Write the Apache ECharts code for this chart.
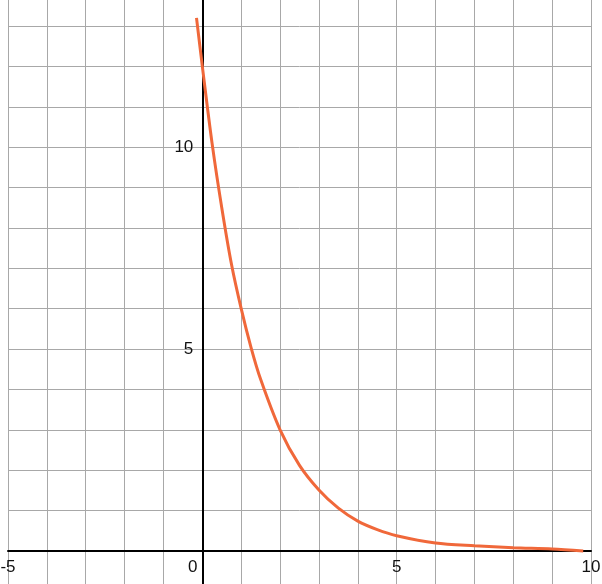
<!DOCTYPE html>
<html>
<head>
    <meta charset="UTF-8">
    <title>y curve</title>
    <script src="https://cdn.jsdelivr.net/npm/echarts@6.0.0/dist/echarts.min.js"></script>
    <style>
        html, body { margin: 0; padding: 0; background: #fff; }
        #chart { width: 602px; height: 584px; }
    </style>
</head>
<body>
    <div id="chart"></div>
    <script>
        // values
        var xValues = [-0.15, 0, 0.25, 0.5, 0.75, 1, 1.25, 1.5, 2, 2.5, 3, 3.5, 4, 4.5, 5, 6, 7, 8, 9, 9.8];
        var yValues = [13.2, 12, 10.1, 8.5, 7.1, 6, 5.05, 4.25, 3, 2.12, 1.51, 1.06, 0.74, 0.53, 0.38, 0.2, 0.13, 0.08, 0.05, 0.0];
        var xTickLabels = [-5, 5, 10];
        var yTickLabels = [5, 10];

        var points = xValues.map(function (x, i) { return [x, yValues[i]]; });

        // axes cross at the origin; labels follow the axis lines
        var xZeroOffset = -194.3;
        var yZeroOffset = -40.4;

        var chart = echarts.init(document.getElementById('chart'));
        chart.setOption({
            animation: false,
            grid: { left: 8, right: 11, top: -14.4, bottom: -7.4, containLabel: false, outerBoundsMode: 'none' },
            xAxis: {
                type: 'value',
                min: -5, max: 10, interval: 1,
                offset: yZeroOffset,
                axisLine: { onZero: false, lineStyle: { color: '#000', width: 2 } },
                axisTick: { show: false },
                splitLine: { lineStyle: { color: '#a8a8a8', width: 1 } },
                axisLabel: {
                    showMinLabel: true, showMaxLabel: true,
                    hideOverlap: false,
                    margin: 8,
                    fontFamily: 'Liberation Sans', fontSize: 17, color: '#111',
                    formatter: function (v) {
                        if (v === 0) return '{o|0}';
                        return xTickLabels.indexOf(v) >= 0 ? String(v) : '';
                    },
                    rich: { o: { fontFamily: 'Liberation Sans', fontSize: 17, color: '#111', padding: [0, 19, 0, 0] } }
                }
            },
            yAxis: {
                type: 'value',
                min: -1, max: 14, interval: 1,
                offset: xZeroOffset,
                axisLine: { onZero: false, lineStyle: { color: '#000', width: 2 } },
                axisTick: { show: false },
                splitLine: { lineStyle: { color: '#a8a8a8', width: 1 } },
                axisLabel: {
                    margin: 9,
                    fontFamily: 'Liberation Sans', fontSize: 17, color: '#111',
                    formatter: function (v) {
                        return yTickLabels.indexOf(v) >= 0 ? String(v) : '';
                    }
                }
            },
            series: [{
                type: 'line',
                data: points,
                smooth: 0.3,
                symbol: 'none',
                lineStyle: { color: '#f0683a', width: 3 }
            }]
        });
    </script>
</body>
</html>
